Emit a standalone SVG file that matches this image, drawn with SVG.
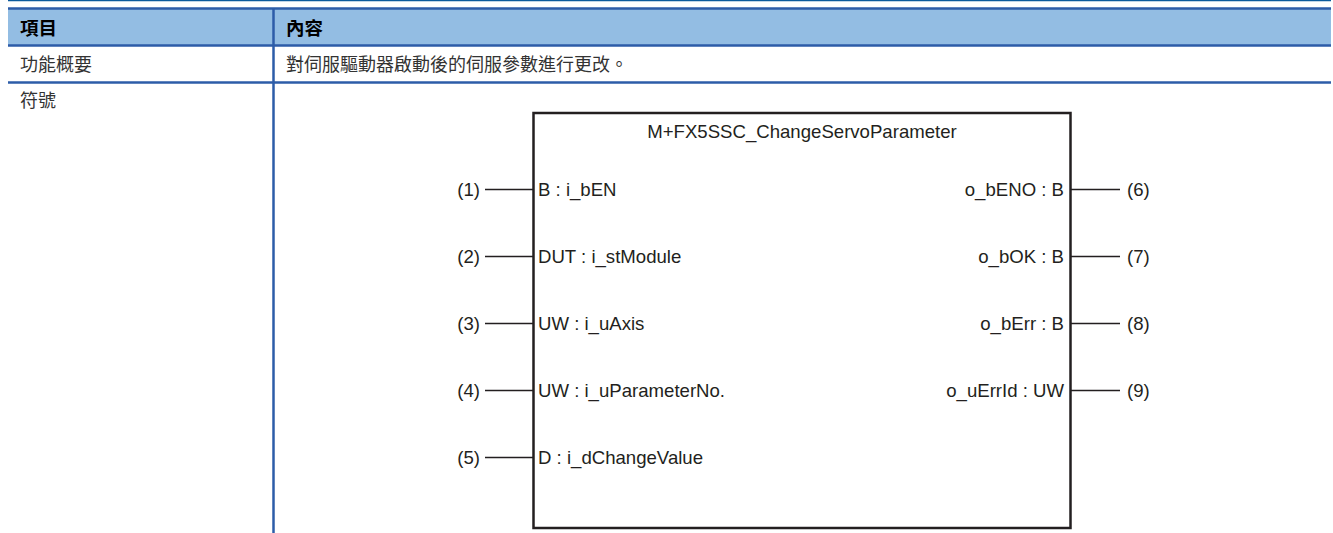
<svg xmlns="http://www.w3.org/2000/svg" width="1333" height="533" viewBox="0 0 1333 533">
<style>
.cjk{font-family:"Liberation Sans","Noto Sans CJK TC",sans-serif;font-size:18px;fill:#333}
.hd{font-family:"Liberation Sans","Noto Sans CJK TC",sans-serif;font-size:18.5px;font-weight:bold;fill:#000}
.lat{font-family:"Liberation Sans",Arial,sans-serif;font-size:18.6px;fill:#231f20}
.rule{stroke:#2d5ca8;stroke-width:2.5;fill:none}
.wire{stroke:#231f20;stroke-width:1.5;fill:none}
</style>
<rect width="1333" height="533" fill="#fff"/>
<g id="table">
<line x1="8" y1="0.5" x2="1331" y2="0.5" stroke="#0b5a9c" stroke-width="1.5"/>
<rect x="8" y="8" width="1323" height="38" fill="#93bde3"/>
<line class="rule" x1="8" y1="8.5" x2="1331" y2="8.5"/>
<line class="rule" x1="8" y1="45.5" x2="1331" y2="45.5"/>
<line class="rule" x1="8" y1="82.5" x2="1331" y2="82.5"/>
<line class="rule" x1="273.5" y1="8" x2="273.5" y2="533"/>
<text class="hd" x="20" y="35">項目</text>
<text class="hd" x="286" y="35">內容</text>
<text class="cjk" x="20" y="71">功能概要</text>
<text class="cjk" x="286" y="71">對伺服驅動器啟動後的伺服參數進行更改。</text>
<text class="cjk" x="20" y="107">符號</text>
</g>
<g id="fb">
<rect x="533.5" y="113" width="537" height="415" fill="none" stroke="#231f20" stroke-width="2.5"/>
<text class="lat" x="802" y="138" text-anchor="middle">M+FX5SSC_ChangeServoParameter</text>
</g>
<g id="inputs">
<text class="lat" x="538" y="196">B : i_bEN</text>
<text class="lat" x="538" y="263">DUT : i_stModule</text>
<text class="lat" x="538" y="330">UW : i_uAxis</text>
<text class="lat" x="538" y="397">UW : i_uParameterNo.</text>
<text class="lat" x="538" y="464">D : i_dChangeValue</text>
<text class="lat" x="480" y="196" text-anchor="end">(1)</text>
<text class="lat" x="480" y="263" text-anchor="end">(2)</text>
<text class="lat" x="480" y="330" text-anchor="end">(3)</text>
<text class="lat" x="480" y="397" text-anchor="end">(4)</text>
<text class="lat" x="480" y="464" text-anchor="end">(5)</text>
</g>
<g id="outputs">
<text class="lat" x="1064" y="196" text-anchor="end">o_bENO : B</text>
<text class="lat" x="1064" y="263" text-anchor="end">o_bOK : B</text>
<text class="lat" x="1064" y="330" text-anchor="end">o_bErr : B</text>
<text class="lat" x="1064" y="397" text-anchor="end">o_uErrId : UW</text>
<text class="lat" x="1127" y="196">(6)</text>
<text class="lat" x="1127" y="263">(7)</text>
<text class="lat" x="1127" y="330">(8)</text>
<text class="lat" x="1127" y="397">(9)</text>
</g>
<g id="connectors">
<line class="wire" x1="485" y1="189.5" x2="533" y2="189.5"/>
<line class="wire" x1="485" y1="256.5" x2="533" y2="256.5"/>
<line class="wire" x1="485" y1="323.5" x2="533" y2="323.5"/>
<line class="wire" x1="485" y1="390.5" x2="533" y2="390.5"/>
<line class="wire" x1="485" y1="457.5" x2="533" y2="457.5"/>
<line class="wire" x1="1071" y1="189.5" x2="1120" y2="189.5"/>
<line class="wire" x1="1071" y1="256.5" x2="1120" y2="256.5"/>
<line class="wire" x1="1071" y1="323.5" x2="1120" y2="323.5"/>
<line class="wire" x1="1071" y1="390.5" x2="1120" y2="390.5"/>
</g>
</svg>
